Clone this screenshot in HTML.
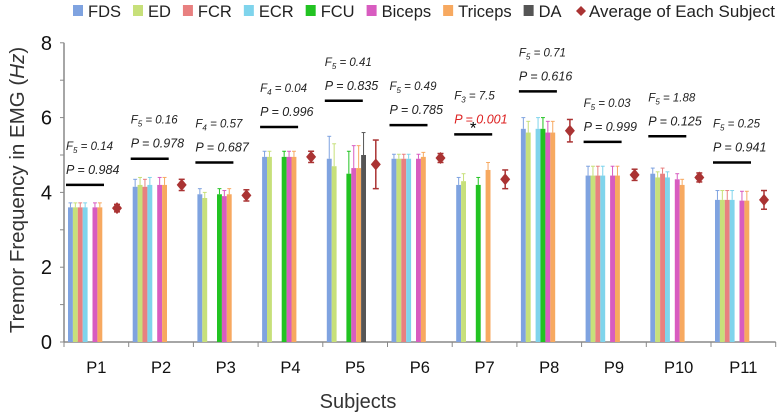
<!DOCTYPE html>
<html><head><meta charset="utf-8"><style>
body{margin:0;background:#fff;}
svg{display:block;font-family:"Liberation Sans",sans-serif;}
</style></head><body>
<svg id="c" width="778" height="417"></svg>
<script>
const subjects=["P1","P2","P3","P4","P5","P6","P7","P8","P9","P10","P11"];
const muscles=["FDS","ED","FCR","ECR","FCU","Biceps","Triceps","DA"];
const colors=["#7fa3e0","#c7e07a","#e88080","#7fd4ec","#22c322","#d85cc0","#f7a960","#555"];
const FDS=[3.6,4.15,3.95,4.95,4.9,4.9,4.2,5.7,4.45,4.5,3.8];
const ED=[3.6,4.2,3.85,4.95,4.7,4.9,4.3,5.6,4.45,4.4,3.8];
const FCR=[3.6,4.15,null,null,null,4.9,null,null,4.45,4.5,3.8];
const ECR=[3.6,4.2,null,null,null,4.9,null,5.7,4.45,4.4,3.8];
const FCU=[null,null,3.95,4.95,4.5,null,4.2,5.7,null,null,null];
const Biceps=[3.6,4.2,3.9,4.95,4.65,4.9,null,5.6,4.45,4.35,3.78];
const Triceps=[3.6,4.2,3.95,4.95,4.65,4.95,4.6,5.6,4.45,4.2,3.78];
const DA=[null,null,null,null,5.0,null,null,null,null,null,null];
const errs=[0.12,0.2,0.15,0.15,0.6,0.12,0.2,0.3,0.25,0.15,0.25];
const avg=[3.58,4.2,3.92,4.95,4.75,4.92,4.35,5.65,4.47,4.4,3.8];
const avgErr=[0.1,0.15,0.15,0.15,0.65,0.12,0.25,0.3,0.15,0.12,0.25];
const fLabels=["5|0.14","5|0.16","4|0.57","4|0.04","5|0.41","5|0.49","3|7.5","5|0.71","5|0.03","5|1.88","5|0.25"];
const pLabels=["0.984","0.978","0.687","0.996","0.835","0.785","0.001","0.616","0.999","0.125","0.941"];
const sigLine=[4.2,4.9,4.8,5.75,6.45,5.8,5.55,6.7,5.35,5.5,4.8];
const yTicks=[0,2,4,6,8];
const series=[FDS,ED,FCR,ECR,FCU,Biceps,Triceps,DA];

const svg=document.getElementById('c');
const NS='http://www.w3.org/2000/svg';
const x0=64,catW=64.7,y0=342,ppu=37.4;
const yS=v=>y0-v*ppu;
const xC=i=>x0+i*catW;
function el(t,a,p){const e=document.createElementNS(NS,t);for(const k in a)e.setAttribute(k,a[k]);(p||svg).appendChild(e);return e;}

// legend
let lx=73;
muscles.forEach((m,i)=>{
  const r=el('rect',{x:lx,y:5,width:10,height:11,fill:colors[i]});
  
  
  const t=el('text',{x:lx+15,y:17,'font-size':16.5,fill:'#222'});t.textContent=m;
  
  
  lx+=15+t.getComputedTextLength()+12;
});
lx=577;
el('path',{d:`M${lx+4} 6 L${lx+9} 11 L${lx+4} 16 L${lx-1} 11Z`,fill:'#a33'});
const lt=el('text',{x:589,y:17,'font-size':16.5,fill:'#222',textLength:186,lengthAdjust:'spacingAndGlyphs'});lt.textContent='Average of Each Subject';



// axes
el('line',{x1:x0,y1:yS(8),x2:x0,y2:y0,stroke:'#888','stroke-width':1.5});
el('line',{x1:x0,y1:y0,x2:x0+11*catW,y2:y0,stroke:'#888','stroke-width':1.5});
for(let v=0;v<=8;v++)el('line',{x1:x0-4,y1:yS(v),x2:x0,y2:yS(v),stroke:'#888'});
yTicks.forEach(v=>{const t=el('text',{x:52,y:yS(v)+7,'font-size':20,'text-anchor':'end',fill:'#111'});t.textContent=v;
});
for(let i=0;i<=11;i++)el('line',{x1:xC(i),y1:y0,x2:xC(i),y2:y0+5,stroke:'#888'});
const yt=el('text',{transform:'translate(24,190) rotate(-90)','text-anchor':'middle','font-size':20.5,fill:'#333'});
yt.innerHTML='Tremor Frequency in EMG (<tspan font-style="italic">Hz</tspan>)';

const xt=el('text',{x:358,y:408,'text-anchor':'middle','font-size':20,fill:'#333'});xt.textContent='Subjects';


subjects.forEach((s,i)=>{
  const g=el('g',{});
  
  
  const cx=xC(i);
  const lab=el('text',{x:cx+catW/2,y:373,'text-anchor':'middle','font-size':16.5,fill:'#111'},g);lab.textContent=s;
  series.forEach((arr,k)=>{
    const v=arr[i];if(v==null)return;
    const bx=cx+4+k*4.9;
    const b=el('rect',{x:bx,y:yS(v),width:4.9,height:v*ppu,fill:colors[k]},g);
    
    
    const ey=yS(v+errs[i]);
    el('line',{x1:bx+2.45,y1:yS(v),x2:bx+2.45,y2:ey,stroke:colors[k],'stroke-width':1},g);
    el('line',{x1:bx+0.5,y1:ey,x2:bx+4.4,y2:ey,stroke:colors[k],'stroke-width':1},g);
  });
  const ax=cx+53,ay=yS(avg[i]);
  el('line',{x1:ax,y1:yS(avg[i]+avgErr[i]),x2:ax,y2:yS(avg[i]-avgErr[i]),stroke:'#a33','stroke-width':1.5},g);
  el('line',{x1:ax-3,y1:yS(avg[i]+avgErr[i]),x2:ax+3,y2:yS(avg[i]+avgErr[i]),stroke:'#a33','stroke-width':1.5},g);
  el('line',{x1:ax-3,y1:yS(avg[i]-avgErr[i]),x2:ax+3,y2:yS(avg[i]-avgErr[i]),stroke:'#a33','stroke-width':1.5},g);
  const d=el('path',{d:`M${ax} ${ay-6} L${ax+5} ${ay} L${ax} ${ay+6} L${ax-5} ${ay}Z`,fill:'#a33'},g);
  
  
  const ly=yS(sigLine[i]);
  el('line',{x1:cx+2,y1:ly,x2:cx+40,y2:ly,stroke:'#000','stroke-width':2.5},g);
  const [df,fv]=fLabels[i].split('|');
  const ft=el('text',{x:cx+2,y:ly-35,'font-size':11.5,'font-style':'italic',fill:'#222'},g);
  ft.innerHTML=`F<tspan font-size="8" dy="3">${df}</tspan><tspan dy="-3"> = ${fv}</tspan>`;
  const pt=el('text',{x:cx+2,y:ly-11,'font-size':12.5,'font-style':'italic',fill:pLabels[i]==='0.001'?'#d22':'#222'},g);
  pt.textContent='P = '+pLabels[i];
  if(pLabels[i]==='0.001'){const st=el('text',{x:cx+21,y:ly-1,'font-size':17,'text-anchor':'middle',fill:'#000'},g);st.textContent='*';}
});
</script>
</body></html>
